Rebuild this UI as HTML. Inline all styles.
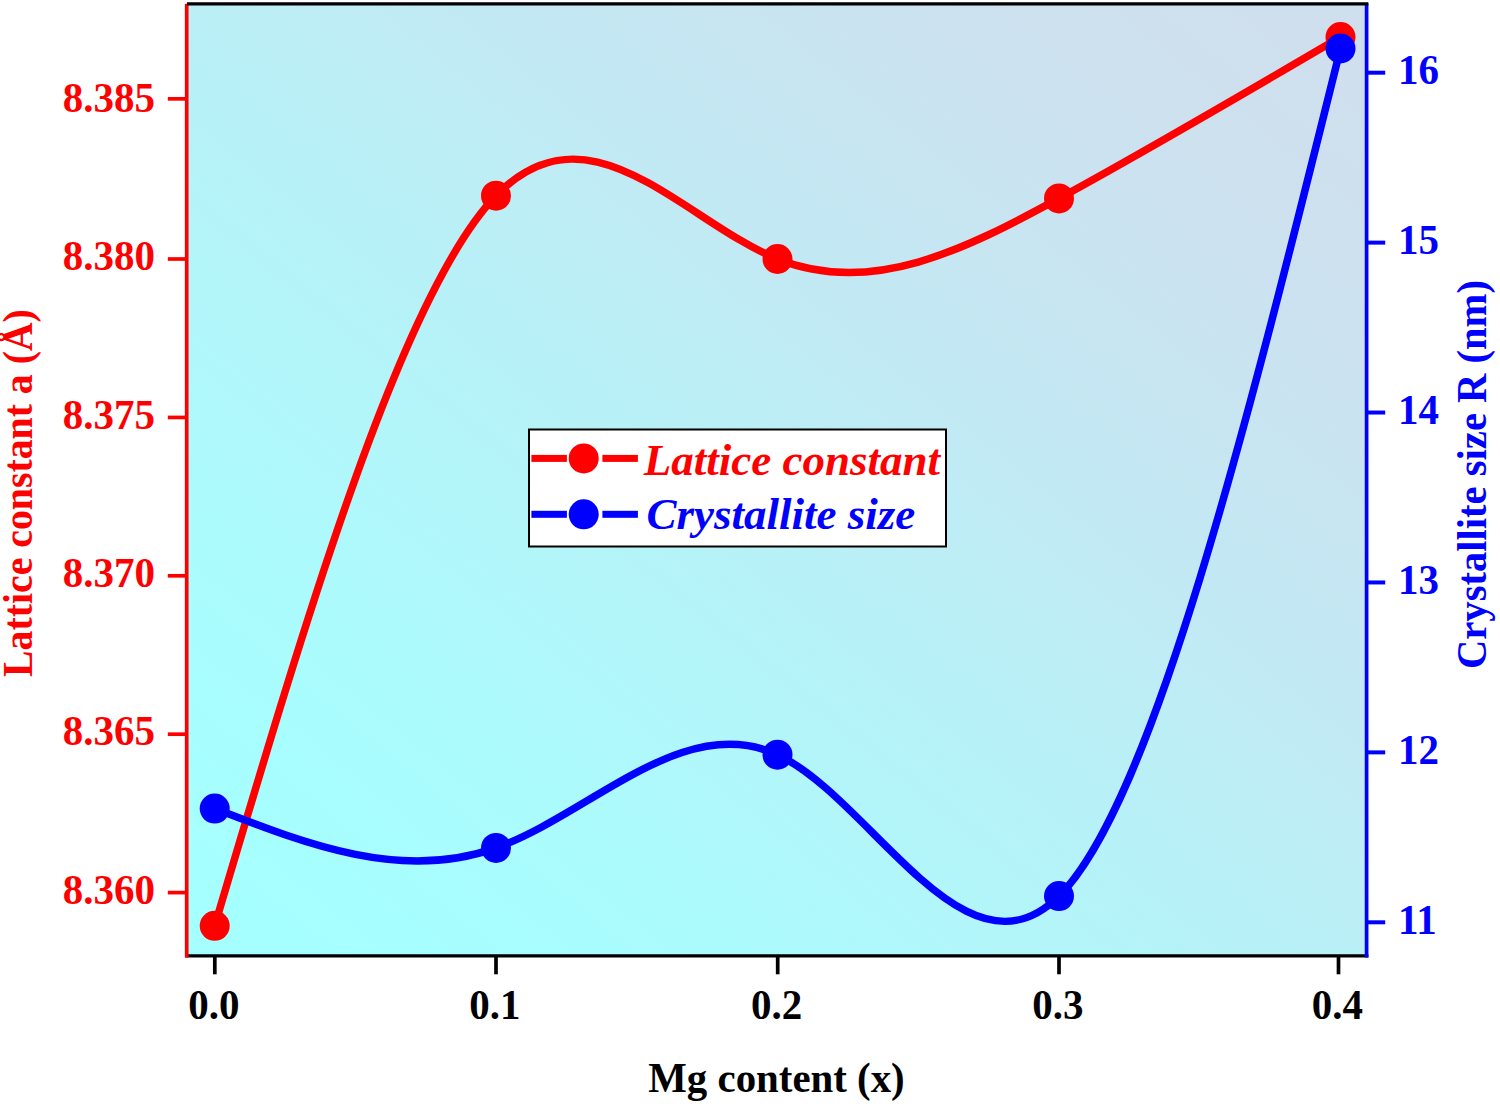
<!DOCTYPE html>
<html><head><meta charset="utf-8"><title>Lattice constant and crystallite size vs Mg content</title>
<style>html,body{margin:0;padding:0;background:#fff;width:1500px;height:1104px;overflow:hidden}svg{display:block}</style></head><body>
<svg width="1500" height="1104" viewBox="0 0 1500 1104">
<defs><linearGradient id="bg" x1="0" y1="1" x2="1" y2="0"><stop offset="0.00" stop-color="#a6ffff"/><stop offset="0.05" stop-color="#a6ffff"/><stop offset="0.10" stop-color="#a7feff"/><stop offset="0.15" stop-color="#a8fdfe"/><stop offset="0.20" stop-color="#aafcfd"/><stop offset="0.25" stop-color="#acfafc"/><stop offset="0.30" stop-color="#aff8fb"/><stop offset="0.35" stop-color="#b2f6fa"/><stop offset="0.40" stop-color="#b4f4f9"/><stop offset="0.45" stop-color="#b7f1f8"/><stop offset="0.50" stop-color="#baeff6"/><stop offset="0.55" stop-color="#beedf5"/><stop offset="0.60" stop-color="#c1eaf4"/><stop offset="0.65" stop-color="#c3e8f3"/><stop offset="0.70" stop-color="#c6e6f2"/><stop offset="0.75" stop-color="#c9e4f1"/><stop offset="0.80" stop-color="#cbe2f0"/><stop offset="0.85" stop-color="#cde1ef"/><stop offset="0.90" stop-color="#cee0ee"/><stop offset="0.95" stop-color="#cfdfee"/><stop offset="1.00" stop-color="#cfdfee"/></linearGradient></defs>
<rect width="1500" height="1104" fill="#fff"/>
<rect x="187" y="4" width="1179.5" height="952" fill="url(#bg)"/>
<path d="M214.70,925.80 C308.47,609.27 402.23,292.75 496.00,195.70 C589.83,98.58 683.67,221.26 777.50,259.00 C871.33,296.74 965.17,249.56 1059.00,198.40 C1152.83,147.24 1246.67,92.12 1340.50,37.00" fill="none" stroke="#f00" stroke-width="7.5" stroke-linejoin="round"/>
<circle cx="214.7" cy="925.8" r="15.0" fill="#f00"/>
<circle cx="496.0" cy="195.7" r="15.0" fill="#f00"/>
<circle cx="777.5" cy="259.0" r="15.0" fill="#f00"/>
<circle cx="1059.0" cy="198.4" r="15.0" fill="#f00"/>
<circle cx="1340.5" cy="37.0" r="15.0" fill="#f00"/>
<path d="M214.70,808.60 C308.47,844.98 402.23,881.36 496.00,847.90 C589.83,814.41 683.67,710.98 777.50,754.70 C871.33,798.42 965.17,989.28 1059.00,896.10 C1152.83,802.92 1246.67,425.71 1340.50,48.50" fill="none" stroke="#00f" stroke-width="7.5" stroke-linejoin="round"/>
<circle cx="214.7" cy="808.6" r="15.0" fill="#00f"/>
<circle cx="496.0" cy="847.9" r="15.0" fill="#00f"/>
<circle cx="777.5" cy="754.7" r="15.0" fill="#00f"/>
<circle cx="1059.0" cy="896.1" r="15.0" fill="#00f"/>
<circle cx="1340.5" cy="48.5" r="15.0" fill="#00f"/>
<line x1="185" y1="955.8" x2="1368.4" y2="955.8" stroke="#000" stroke-width="3.2"/>
<line x1="186.7" y1="3.8" x2="186.7" y2="957.4" stroke="#f00" stroke-width="3.7"/>
<line x1="1366.6" y1="3.8" x2="1366.6" y2="957.4" stroke="#00f" stroke-width="3.7"/>
<line x1="187" y1="3.8" x2="1368.4" y2="3.8" stroke="#000" stroke-width="3.2"/>
<line x1="167.8" y1="98.85" x2="186.7" y2="98.85" stroke="#f00" stroke-width="3.7"/>
<text transform="translate(155.1,111.80) scale(1,1.035)" text-anchor="end" font-size="41" fill="#f00" font-family="'Liberation Serif', serif" font-weight="bold">8.385</text>
<line x1="167.8" y1="259.00" x2="186.7" y2="259.00" stroke="#f00" stroke-width="3.7"/>
<text transform="translate(155.1,270.22) scale(1,1.035)" text-anchor="end" font-size="41" fill="#f00" font-family="'Liberation Serif', serif" font-weight="bold">8.380</text>
<line x1="167.8" y1="417.45" x2="186.7" y2="417.45" stroke="#f00" stroke-width="3.7"/>
<text transform="translate(155.1,428.64) scale(1,1.035)" text-anchor="end" font-size="41" fill="#f00" font-family="'Liberation Serif', serif" font-weight="bold">8.375</text>
<line x1="167.8" y1="575.80" x2="186.7" y2="575.80" stroke="#f00" stroke-width="3.7"/>
<text transform="translate(155.1,587.06) scale(1,1.035)" text-anchor="end" font-size="41" fill="#f00" font-family="'Liberation Serif', serif" font-weight="bold">8.370</text>
<line x1="167.8" y1="734.20" x2="186.7" y2="734.20" stroke="#f00" stroke-width="3.7"/>
<text transform="translate(155.1,745.48) scale(1,1.035)" text-anchor="end" font-size="41" fill="#f00" font-family="'Liberation Serif', serif" font-weight="bold">8.365</text>
<line x1="167.8" y1="892.60" x2="186.7" y2="892.60" stroke="#f00" stroke-width="3.7"/>
<text transform="translate(155.1,903.90) scale(1,1.035)" text-anchor="end" font-size="41" fill="#f00" font-family="'Liberation Serif', serif" font-weight="bold">8.360</text>
<line x1="1366.6" y1="72.70" x2="1385.2" y2="72.70" stroke="#00f" stroke-width="4"/>
<text transform="translate(1398,84.00) scale(1,1.035)" font-size="41" fill="#00f" font-family="'Liberation Serif', serif" font-weight="bold">16</text>
<line x1="1366.6" y1="242.62" x2="1385.2" y2="242.62" stroke="#00f" stroke-width="4"/>
<text transform="translate(1398,253.90) scale(1,1.035)" font-size="41" fill="#00f" font-family="'Liberation Serif', serif" font-weight="bold">15</text>
<line x1="1366.6" y1="412.54" x2="1385.2" y2="412.54" stroke="#00f" stroke-width="4"/>
<text transform="translate(1398,423.80) scale(1,1.035)" font-size="41" fill="#00f" font-family="'Liberation Serif', serif" font-weight="bold">14</text>
<line x1="1366.6" y1="582.46" x2="1385.2" y2="582.46" stroke="#00f" stroke-width="4"/>
<text transform="translate(1398,593.70) scale(1,1.035)" font-size="41" fill="#00f" font-family="'Liberation Serif', serif" font-weight="bold">13</text>
<line x1="1366.6" y1="752.38" x2="1385.2" y2="752.38" stroke="#00f" stroke-width="4"/>
<text transform="translate(1398,763.60) scale(1,1.035)" font-size="41" fill="#00f" font-family="'Liberation Serif', serif" font-weight="bold">12</text>
<line x1="1366.6" y1="922.30" x2="1385.2" y2="922.30" stroke="#00f" stroke-width="4"/>
<text transform="translate(1398,933.50) scale(1,1.035)" font-size="41" fill="#00f" font-family="'Liberation Serif', serif" font-weight="bold">11</text>
<line x1="214.8" y1="955.8" x2="214.8" y2="974.3" stroke="#000" stroke-width="3.7"/>
<text transform="translate(213.8,1019.2) scale(1,1.035)" text-anchor="middle" font-size="41" fill="#000" font-family="'Liberation Serif', serif" font-weight="bold">0.0</text>
<line x1="496.0" y1="955.8" x2="496.0" y2="974.3" stroke="#000" stroke-width="3.7"/>
<text transform="translate(495.0,1019.2) scale(1,1.035)" text-anchor="middle" font-size="41" fill="#000" font-family="'Liberation Serif', serif" font-weight="bold">0.1</text>
<line x1="777.7" y1="955.8" x2="777.7" y2="974.3" stroke="#000" stroke-width="3.7"/>
<text transform="translate(776.7,1019.2) scale(1,1.035)" text-anchor="middle" font-size="41" fill="#000" font-family="'Liberation Serif', serif" font-weight="bold">0.2</text>
<line x1="1059.0" y1="955.8" x2="1059.0" y2="974.3" stroke="#000" stroke-width="3.7"/>
<text transform="translate(1058.0,1019.2) scale(1,1.035)" text-anchor="middle" font-size="41" fill="#000" font-family="'Liberation Serif', serif" font-weight="bold">0.3</text>
<line x1="1338.5" y1="955.8" x2="1338.5" y2="974.3" stroke="#000" stroke-width="3.7"/>
<text transform="translate(1337.5,1019.2) scale(1,1.035)" text-anchor="middle" font-size="41" fill="#000" font-family="'Liberation Serif', serif" font-weight="bold">0.4</text>
<text transform="translate(648.3,1092) scale(0.973,1)" font-size="42" fill="#000" font-family="'Liberation Serif', serif" font-weight="bold">Mg content (x)</text>
<text transform="translate(31.7,676.9) rotate(-90) scale(0.947,1)" font-size="42" fill="#f00" font-family="'Liberation Serif', serif" font-weight="bold">Lattice constant a (&#197;)</text>
<text transform="translate(1485.8,669) rotate(-90) scale(0.967,1)" font-size="42" fill="#00f" font-family="'Liberation Serif', serif" font-weight="bold">Crystallite size R (nm)</text>
<rect x="529" y="429.5" width="417" height="117" fill="#fff" stroke="#000" stroke-width="2"/>
<rect x="531.4" y="454.9" width="35.5" height="7" fill="#f00"/>
<rect x="602.4" y="454.9" width="35.5" height="7" fill="#f00"/>
<circle cx="583.7" cy="458.4" r="15" fill="#f00"/>
<rect x="531.4" y="510.8" width="35.5" height="7" fill="#00f"/>
<rect x="602.4" y="510.8" width="35.5" height="7" fill="#00f"/>
<circle cx="583.7" cy="514.3" r="15" fill="#00f"/>
<text x="643.8" y="474.8" font-size="45" font-style="italic" fill="#f00" font-family="'Liberation Serif', serif" font-weight="bold">Lattice constant</text>
<text x="646.5" y="528.7" font-size="45" font-style="italic" fill="#00f" font-family="'Liberation Serif', serif" font-weight="bold">Crystallite size</text>
</svg></body></html>
